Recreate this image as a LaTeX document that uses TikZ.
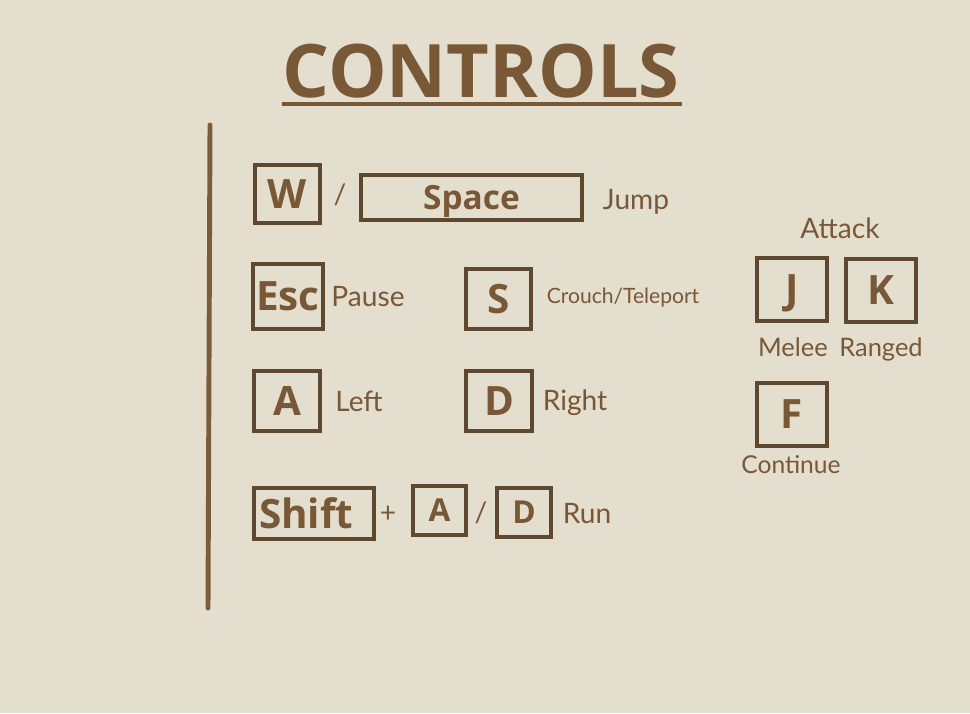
\documentclass[tikz,border=0pt]{standalone}
\usepackage{fontspec}
\usepackage{tikz}
\usepackage{xcolor}
\setmainfont{Lato}
\newfontfamily\teclafont{Open Sans}
\definecolor{fondo}{RGB}{228,222,206}
\definecolor{marron}{RGB}{120,88,55}
\definecolor{borde}{RGB}{95,72,48}
\definecolor{regla}{RGB}{125,92,60}

\begin{document}
\begin{tikzpicture}[
    tecla/.style={draw=borde, line width=2pt, inner sep=0pt, text=marron, text depth=0pt,
      font=\teclafont\bfseries\fontsize{23}{23}\selectfont},
    etiqueta/.style={text=marron, inner sep=0pt, font=\fontsize{16}{16}\selectfont}
  ]
            % Fondo del papel
            \fill[fondo] (0,0) rectangle (19.4,14.26);

            % Titulo subrayado
            \node[text=marron, font=\teclafont\bfseries\fontsize{42}{42}\selectfont] (titulo) at (9.62,12.84) {CONTROLS};
            \draw[marron, line width=2.2pt] (5.64,12.18) -- (13.64,12.18);

            % Raya vertical a la izquierda
            \draw[regla, line width=2.8pt, line cap=round] (4.2,11.76) -- (4.16,2.1);

            % Fila de salto
            \node[tecla, minimum width=1.3cm, minimum height=1.16cm] (w) at (5.75,10.38) {W};
            \node[etiqueta] (barra1) at (6.8,10.36) {/};
            \node[tecla, minimum width=4.42cm, minimum height=0.9cm, font=\teclafont\bfseries\fontsize{19}{19}\selectfont] (space) at (9.43,10.31) {Space};
            \node[etiqueta] (jump) at (12.72,10.22) {Jump};

            % Pausa y agacharse
            \node[tecla, minimum width=1.4cm, minimum height=1.3cm] (esc) at (5.76,8.33) {Esc};
            \node[etiqueta] (pause) at (7.36,8.32) {Pause};
            \node[tecla, minimum width=1.3cm, minimum height=1.2cm] (s) at (9.97,8.28) {S};
            \node[etiqueta, font=\fontsize{12}{12}\selectfont] (crouch) at (12.46,8.3) {Crouch/Teleport};

            % Izquierda y derecha
            \node[tecla, minimum width=1.32cm, minimum height=1.2cm] (a) at (5.74,6.24) {A};
            \node[etiqueta] (left) at (7.18,6.24) {Left};
            \node[tecla, minimum width=1.32cm, minimum height=1.2cm] (d) at (9.98,6.24) {D};
            \node[etiqueta] (right) at (11.5,6.2) {Right};

            % Correr
            \node[tecla, minimum width=2.4cm, minimum height=1.02cm, text width=2.2cm, align=left] (shift) at (6.28,3.99) {Shift};
            \node[etiqueta] (mas) at (7.76,3.98) {+};
            \node[tecla, minimum width=1.06cm, minimum height=0.98cm, font=\teclafont\bfseries\fontsize{18}{18}\selectfont] (a2) at (8.79,4.05) {A};
            \node[etiqueta] (barra2) at (9.62,4.0) {/};
            \node[tecla, minimum width=1.08cm, minimum height=0.98cm, font=\teclafont\bfseries\fontsize{18}{18}\selectfont] (d2) at (10.48,4.01) {D};
            \node[etiqueta] (run) at (11.74,3.98) {Run};

            % Ataques
            \node[etiqueta] (attack) at (16.8,9.7) {Attack};
            \node[tecla, minimum width=1.4cm, minimum height=1.26cm] (j) at (15.84,8.47) {J};
            \node[tecla, minimum width=1.4cm, minimum height=1.26cm] (k) at (17.62,8.45) {K};
            \node[etiqueta, font=\fontsize{14.5}{14.5}\selectfont] (melee) at (15.86,7.32) {Melee};
            \node[etiqueta, font=\fontsize{14.5}{14.5}\selectfont] (ranged) at (17.62,7.28) {Ranged};

            % Continuar
            \node[tecla, minimum width=1.4cm, minimum height=1.26cm] (f) at (15.84,5.97) {F};
            \node[etiqueta, font=\fontsize{14}{14}\selectfont] (continue) at (15.82,4.96) {Continue};
\end{tikzpicture}
\end{document}
